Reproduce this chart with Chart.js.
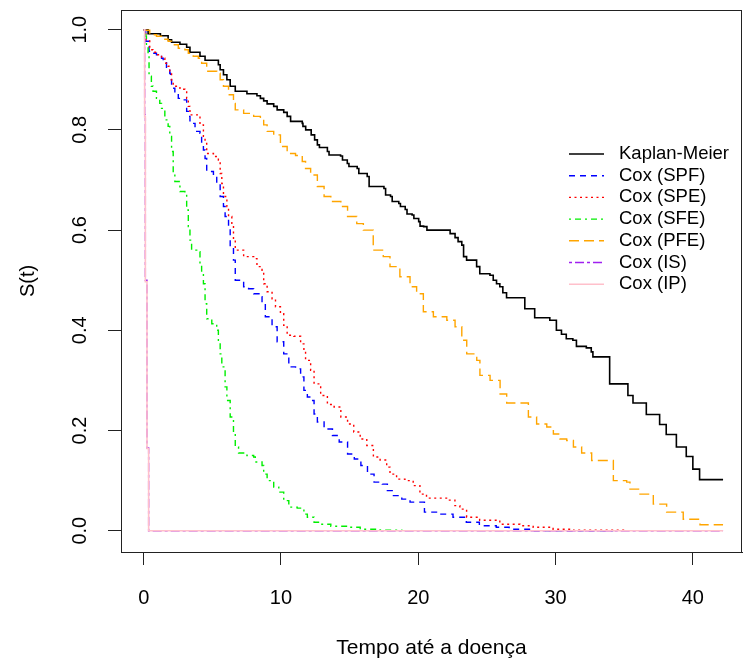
<!DOCTYPE html>
<html lang="pt-BR">
<head>
<meta charset="utf-8">
<title>Curvas de sobrevivência</title>
<script src="https://cdn.jsdelivr.net/npm/chart.js@4.4.1/dist/chart.umd.min.js"></script>
<style>
    html, body { margin: 0; padding: 0; background: #ffffff; }
    canvas { display: block; }
</style>
</head>
<body>
<canvas id="graficoSobrevivencia" width="744" height="664"></canvas>
<script>
// ==========================================
// DADOS
// ==========================================
const ticksTempo = [0, 10, 20, 30, 40];
const ticksSobrevivencia = [0, 0.2, 0.4, 0.6, 0.8, 1.0];

const nomesCurvas = ["Kaplan-Meier", "Cox (SPF)", "Cox (SPE)", "Cox (SFE)", "Cox (PFE)", "Cox (IS)", "Cox (IP)"];

const kmTempo = [0, 0.32, 1.22, 1.78, 2.03, 2.64, 3.13, 3.37, 4.10, 4.47, 5.44, 5.57, 5.81, 6.06, 6.3, 6.67, 7.52, 8.25, 8.5, 8.74, 8.99, 9.47, 9.72, 10.2, 10.45, 10.7, 11.55, 11.6, 11.8, 12.2, 12.45, 12.65, 12.8, 13.38, 13.5, 14.34, 14.48, 14.83, 14.95, 15.55, 15.67, 16.28, 16.42, 17.5, 17.62, 17.98, 18.1, 18.58, 18.7, 19.05, 19.18, 19.55, 19.68, 20.03, 20.13, 20.39, 20.63, 22.32, 22.68, 22.9, 23.17, 23.3, 23.52, 24.25, 24.48, 25.22, 25.46, 25.7, 25.94, 26.16, 26.43, 27.76, 28.48, 29.58, 30.06, 30.43, 30.78, 31.26, 31.52, 32.24, 32.6, 32.72, 33.94, 35.27, 35.64, 36.61, 37.58, 38.06, 38.8, 39.52, 40.0, 40.49, 42.2];
const kmSurv = [1.0, 0.992, 0.988, 0.98, 0.975, 0.971, 0.965, 0.955, 0.947, 0.939, 0.93, 0.92, 0.91, 0.9, 0.887, 0.877, 0.872, 0.868, 0.863, 0.858, 0.852, 0.847, 0.84, 0.835, 0.827, 0.817, 0.813, 0.807, 0.8, 0.79, 0.78, 0.77, 0.765, 0.757, 0.75, 0.748, 0.74, 0.733, 0.727, 0.723, 0.713, 0.707, 0.687, 0.683, 0.67, 0.667, 0.657, 0.653, 0.647, 0.641, 0.632, 0.63, 0.623, 0.617, 0.608, 0.607, 0.6, 0.593, 0.585, 0.577, 0.57, 0.547, 0.54, 0.527, 0.513, 0.51, 0.5, 0.493, 0.487, 0.475, 0.465, 0.443, 0.425, 0.42, 0.4, 0.392, 0.383, 0.38, 0.368, 0.365, 0.357, 0.347, 0.293, 0.27, 0.255, 0.232, 0.212, 0.192, 0.167, 0.148, 0.123, 0.102, 0.102];

const spfTempo = [0, 0.15, 0.39, 0.68, 0.93, 1.3, 1.42, 1.66, 1.9, 1.95, 2.03, 2.27, 2.52, 2.88, 3.13, 3.25, 3.37, 3.74, 4.1, 4.22, 4.35, 4.47, 4.59, 5.08, 5.32, 5.57, 5.81, 5.93, 6.18, 6.3, 6.54, 6.67, 7.28, 7.64, 8.01, 8.5, 8.62, 8.86, 9.35, 9.72, 10.2, 10.57, 11.06, 11.43, 11.67, 11.92, 12.16, 12.41, 12.65, 13.14, 13.75, 14.24, 14.85, 15.34, 15.82, 16.3, 16.78, 17.38, 17.75, 18.1, 18.8, 19.4, 20.45, 21.56, 22.53, 23.5, 24.45, 25.68, 26.62, 28.32, 34.2];
const spfSurv = [1.0, 0.977, 0.957, 0.953, 0.95, 0.943, 0.937, 0.923, 0.913, 0.9, 0.883, 0.87, 0.863, 0.86, 0.837, 0.827, 0.813, 0.797, 0.793, 0.773, 0.76, 0.743, 0.717, 0.707, 0.693, 0.667, 0.647, 0.627, 0.607, 0.567, 0.54, 0.5, 0.487, 0.483, 0.473, 0.467, 0.453, 0.427, 0.407, 0.377, 0.353, 0.327, 0.323, 0.307, 0.28, 0.267, 0.26, 0.233, 0.217, 0.203, 0.19, 0.177, 0.153, 0.143, 0.13, 0.113, 0.097, 0.093, 0.08, 0.07, 0.063, 0.057, 0.037, 0.033, 0.027, 0.017, 0.01, 0.007, 0.003, 0.0, 0.0];

const speTempo = [0, 0.15, 0.44, 0.68, 0.93, 1.3, 1.54, 1.78, 1.9, 2.03, 2.15, 2.64, 3.0, 3.13, 3.25, 3.37, 3.98, 4.1, 4.35, 4.47, 4.59, 5.08, 5.44, 5.57, 5.69, 5.81, 6.06, 6.18, 6.42, 6.54, 6.67, 7.28, 8.01, 8.25, 8.62, 8.74, 8.99, 9.35, 9.6, 9.96, 10.2, 10.45, 10.94, 11.43, 11.67, 11.79, 12.16, 12.41, 12.89, 13.38, 13.87, 14.36, 14.85, 15.3, 15.77, 16.25, 16.73, 17.22, 17.7, 17.94, 18.42, 19.03, 19.63, 20.12, 20.6, 22.19, 22.67, 23.03, 23.52, 24.47, 25.94, 27.4, 28.37, 29.82, 31.27, 35.15];
const speSurv = [1.0, 0.98, 0.96, 0.955, 0.95, 0.943, 0.933, 0.927, 0.913, 0.897, 0.887, 0.881, 0.88, 0.863, 0.847, 0.83, 0.827, 0.81, 0.787, 0.773, 0.753, 0.747, 0.74, 0.713, 0.693, 0.667, 0.647, 0.627, 0.607, 0.58, 0.56, 0.547, 0.543, 0.527, 0.52, 0.493, 0.477, 0.463, 0.447, 0.433, 0.41, 0.39, 0.388, 0.373, 0.36, 0.34, 0.32, 0.293, 0.27, 0.252, 0.247, 0.227, 0.213, 0.197, 0.183, 0.17, 0.147, 0.141, 0.127, 0.113, 0.103, 0.1, 0.09, 0.073, 0.065, 0.061, 0.05, 0.043, 0.027, 0.021, 0.013, 0.01, 0.007, 0.003, 0.001, 0.0];

const sfeTempo = [0, 0.15, 0.2, 0.32, 0.39, 0.56, 0.68, 0.93, 1.17, 1.3, 1.54, 1.78, 1.9, 2.03, 2.15, 2.27, 2.64, 3.0, 3.13, 3.25, 3.37, 3.49, 3.86, 4.1, 4.22, 4.35, 4.47, 4.59, 4.96, 5.32, 5.44, 5.57, 5.69, 5.93, 6.06, 6.3, 6.54, 6.67, 6.91, 7.52, 8.01, 8.13, 8.62, 8.74, 8.99, 9.47, 9.84, 10.2, 10.57, 11.18, 11.67, 11.92, 12.41, 12.89, 13.63, 14.85, 15.77, 17.22, 18.8];
const sfeSurv = [1.0, 0.987, 0.967, 0.947, 0.907, 0.887, 0.877, 0.863, 0.853, 0.843, 0.82, 0.807, 0.787, 0.757, 0.713, 0.697, 0.677, 0.673, 0.64, 0.607, 0.58, 0.56, 0.557, 0.533, 0.513, 0.493, 0.453, 0.423, 0.413, 0.4, 0.38, 0.353, 0.327, 0.287, 0.26, 0.227, 0.193, 0.167, 0.155, 0.15, 0.147, 0.137, 0.13, 0.113, 0.1, 0.087, 0.077, 0.06, 0.047, 0.045, 0.033, 0.027, 0.017, 0.013, 0.009, 0.007, 0.003, 0.001, 0.0];

const pfeTempo = [0, 0.07, 0.44, 0.93, 1.42, 1.78, 2.03, 2.52, 3.0, 3.25, 3.61, 3.98, 4.22, 4.59, 5.32, 5.57, 5.81, 6.18, 6.54, 6.67, 7.28, 8.01, 8.5, 8.74, 8.99, 9.47, 9.96, 10.45, 11.06, 11.55, 11.79, 12.16, 12.65, 13.14, 13.63, 14.36, 14.85, 15.52, 16.0, 16.72, 17.45, 17.94, 18.66, 19.4, 19.88, 20.37, 21.1, 22.08, 22.68, 23.17, 23.53, 24.26, 24.49, 25.23, 25.96, 26.44, 28.02, 28.62, 29.36, 29.84, 30.32, 30.81, 31.3, 31.9, 32.63, 34.21, 35.18, 35.42, 36.15, 37.12, 38.09, 39.3, 40.52, 42.2];
const pfeSurv = [1.0, 0.999, 0.99, 0.987, 0.981, 0.977, 0.97, 0.963, 0.96, 0.953, 0.947, 0.943, 0.933, 0.917, 0.913, 0.9, 0.887, 0.87, 0.853, 0.84, 0.833, 0.827, 0.823, 0.81, 0.797, 0.79, 0.767, 0.753, 0.749, 0.737, 0.723, 0.71, 0.687, 0.667, 0.657, 0.647, 0.627, 0.613, 0.6, 0.56, 0.547, 0.527, 0.507, 0.487, 0.473, 0.437, 0.427, 0.42, 0.407, 0.38, 0.353, 0.34, 0.31, 0.3, 0.273, 0.255, 0.227, 0.213, 0.207, 0.193, 0.183, 0.18, 0.167, 0.155, 0.14, 0.1, 0.097, 0.083, 0.073, 0.053, 0.037, 0.023, 0.012, 0.012];

const isTempo = [0, 0.07, 0.12, 0.24, 0.36, 42.2];
const isSurv = [1.0, 0.83, 0.5, 0.165, 0.0, 0.0];

const ipTempo = [0, 0.07, 0.12, 0.24, 0.36, 42.2];
const ipSurv = [1.0, 0.826, 0.497, 0.164, 0.0, 0.0];

// ==========================================
// INICIALIZAÇÃO
// ==========================================
document.addEventListener("DOMContentLoaded", function () {
    criarGraficoSobrevivencia();
});

function juntarPontos(tempos, valores) {
    return tempos.map(function (t, i) {
        return { x: t, y: valores[i] };
    });
}

function curva(indice, tempos, valores, cor, tracejado, largura, ordem) {
    return {
        label: nomesCurvas[indice],
        data: juntarPontos(tempos, valores),
        borderColor: cor,
        borderWidth: largura,
        borderDash: tracejado,
        stepped: true,
        pointRadius: 0,
        fill: false,
        order: ordem
    };
}

// ==========================================
// LEGENDA NO ESTILO DO R (sem caixa, dentro do gráfico)
// ==========================================
const legendaR = {
    id: "legendaR",
    afterDatasetsDraw: function (chart) {
        const ctx = chart.ctx;
        ctx.save();
        ctx.font = "18.5px 'Liberation Sans', Arial, sans-serif";
        ctx.textBaseline = "middle";
        ctx.textAlign = "left";
        chart.data.datasets.forEach(function (ds, i) {
            const y = 154 + i * 21.7;
            ctx.strokeStyle = ds.borderColor;
            ctx.lineWidth = ds.borderWidth;
            ctx.setLineDash(ds.borderDash || []);
            ctx.beginPath();
            ctx.moveTo(569, y);
            ctx.lineTo(604, y);
            ctx.stroke();
            ctx.setLineDash([]);
            ctx.fillStyle = "#000000";
            ctx.fillText(ds.label, 619, y);
        });
        ctx.restore();
    }
};

// caixa em volta da área do gráfico (box() do R)
const caixaR = {
    id: "caixaR",
    afterDraw: function (chart) {
        const a = chart.chartArea;
        const ctx = chart.ctx;
        ctx.save();
        ctx.strokeStyle = "#222222";
        ctx.lineWidth = 1;
        ctx.strokeRect(a.left + 0.5, a.top + 0.5, a.right - a.left - 1, a.bottom - a.top);
        ctx.restore();
    }
};

// ==========================================
// GRÁFICO
// ==========================================
function criarGraficoSobrevivencia() {
    const ctx = document.getElementById("graficoSobrevivencia");
    if (!ctx) return;

    const fonte = "'Liberation Sans', Arial, sans-serif";

    new Chart(ctx, {
        type: "line",
        data: {
            datasets: [
                curva(0, kmTempo, kmSurv, "#000000", [], 1.6, 7),
                curva(1, spfTempo, spfSurv, "#0000FF", [6, 5], 1.4, 6),
                curva(2, speTempo, speSurv, "#FF0000", [2, 3.5], 1.4, 5),
                curva(3, sfeTempo, sfeSurv, "#00EE00", [2, 4, 6, 4], 1.4, 4),
                curva(4, pfeTempo, pfeSurv, "#FFA500", [10, 5], 1.4, 3),
                curva(5, isTempo, isSurv, "#A020F0", [3, 3, 9, 3], 1.4, 2),
                curva(6, ipTempo, ipSurv, "#FFC0CB", [], 1.6, 1)
            ]
        },
        options: {
            responsive: false,
            animation: false,
            layout: { padding: { top: 10, right: 2, left: 0, bottom: 0 } },
            plugins: {
                legend: { display: false },
                tooltip: { enabled: false }
            },
            scales: {
                x: {
                    type: "linear",
                    min: -1.653,
                    max: 43.58,
                    afterBuildTicks: function (escala) {
                        escala.ticks = ticksTempo.map(function (v) { return { value: v }; });
                    },
                    afterFit: function (escala) {
                        escala.height = 112;
                        escala.paddingLeft = 0;
                        escala.paddingRight = 0;
                    },
                    grid: { drawOnChartArea: false, drawTicks: true, tickLength: 13, color: "#222222" },
                    border: { display: true, color: "#222222" },
                    ticks: {
                        autoSkip: false,
                        maxRotation: 0,
                        padding: 21,
                        color: "#000000",
                        font: { family: fonte, size: 20 },
                        callback: function (v) { return String(v); }
                    },
                    title: {
                        display: true,
                        text: "Tempo até a doença",
                        color: "#000000",
                        font: { family: fonte, size: 21 },
                        padding: { top: 0, bottom: 3 }
                    }
                },
                y: {
                    type: "linear",
                    min: -0.0425,
                    max: 1.0393,
                    afterBuildTicks: function (escala) {
                        escala.ticks = ticksSobrevivencia.map(function (v) { return { value: v }; });
                    },
                    afterFit: function (escala) {
                        escala.width = 121;
                        escala.paddingTop = 0;
                        escala.paddingBottom = 0;
                    },
                    grid: { drawOnChartArea: false, drawTicks: true, tickLength: 13, color: "#222222" },
                    border: { display: true, color: "#222222" },
                    ticks: {
                        autoSkip: false,
                        minRotation: 90,
                        maxRotation: 90,
                        crossAlign: "center",
                        padding: 14,
                        color: "#000000",
                        font: { family: fonte, size: 20 },
                        callback: function (v) { return v.toFixed(1); }
                    },
                    title: {
                        display: true,
                        text: "S(t)",
                        color: "#000000",
                        font: { family: fonte, size: 20 },
                        padding: { top: 16, bottom: 0 }
                    }
                }
            }
        },
        plugins: [legendaR, caixaR]
    });
}
</script>
</body>
</html>
